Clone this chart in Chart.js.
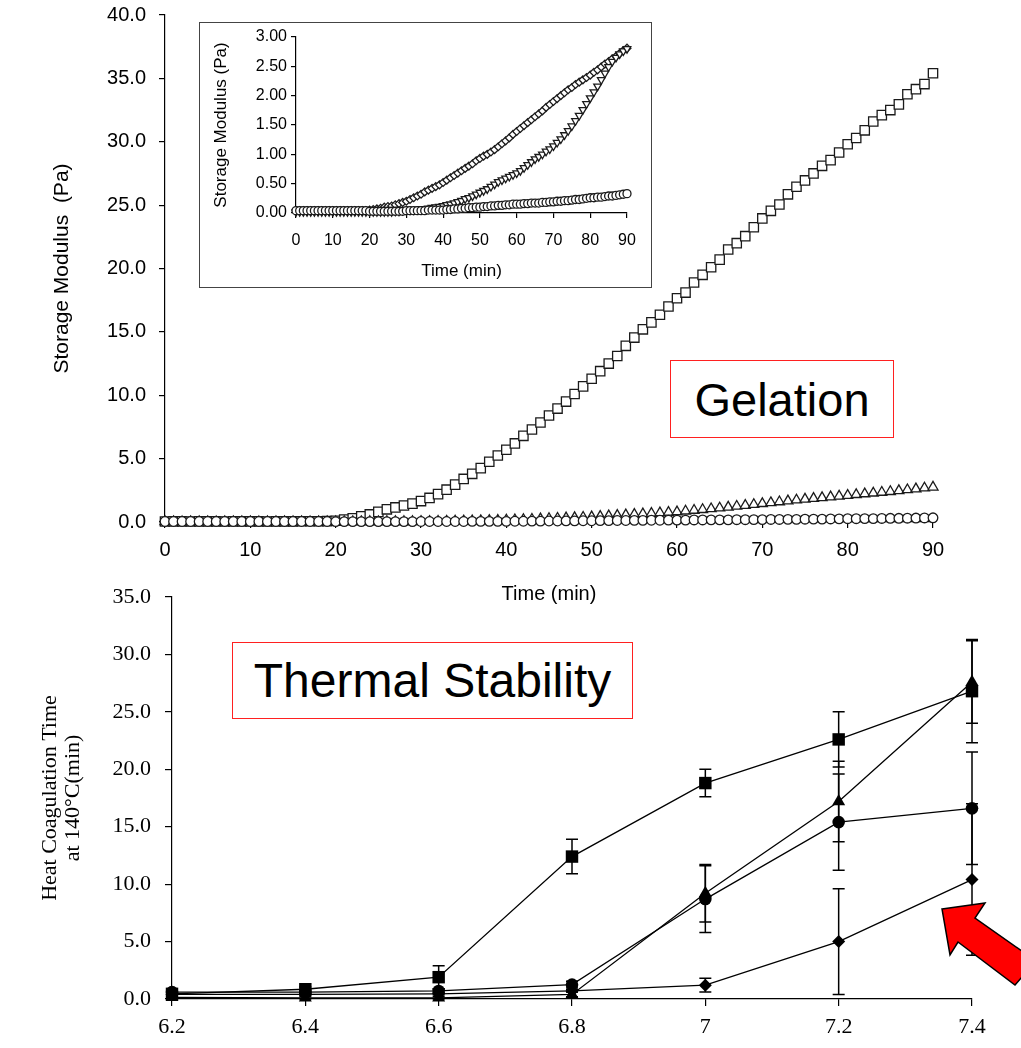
<!DOCTYPE html>
<html>
<head>
<meta charset="utf-8">
<script src="https://cdn.jsdelivr.net/npm/chart.js@4.4.1/dist/chart.umd.min.js"></script>
<style>
  body { margin: 0; background: #fff; }
  #wrap { position: relative; width: 1021px; height: 1048px; overflow: hidden; background: #fff; }
  canvas { position: absolute; }
  .tag { position: absolute; box-sizing: border-box; border: 1.5px solid #ff2020; background: #fff;
         font-family: "Liberation Sans", Arial, sans-serif; color: #000;
         display: flex; align-items: center; justify-content: center; }
</style>
</head>
<body>
<div id="wrap">
  <canvas id="gelChart" width="1021" height="610" style="left:0;top:0"></canvas>
  <div id="insetBox" style="position:absolute;left:199px;top:22px;width:451px;height:264px;border:1.5px solid #444;background:#fff">
    <canvas id="insetChart" width="451" height="264" style="left:0;top:0"></canvas>
  </div>
  <canvas id="heatChart" width="1021" height="473" style="left:0;top:575px"></canvas>
  <div class="tag" style="left:670px;top:360px;width:224px;height:78px;font-size:47px">Gelation</div>
  <div class="tag" style="left:232px;top:642px;width:401px;height:77px;font-size:48px">Thermal Stability</div>
  <svg style="position:absolute;left:0;top:0" width="1021" height="1048">
    <polygon points="942,909 985,903 975,918 1036,961 1015,985 958,942 950,955"
             fill="#ff0000" stroke="#000" stroke-width="1.5" stroke-linejoin="miter"/>
  </svg>
</div>
<script>
// time (min) of each rheometer reading
const timeMin = [0,1,2,3,4,5,6,7,8,9,10,11,12,13,14,15,16,17,18,19,20,21,22,23,24,25,26,27,28,29,
  30,31,32,33,34,35,36,37,38,39,40,41,42,43,44,45,46,47,48,49,50,51,52,53,54,55,56,57,58,59,
  60,61,62,63,64,65,66,67,68,69,70,71,72,73,74,75,76,77,78,79,80,81,82,83,84,85,86,87,88,89,90]

// storage modulus (Pa), main plot
const gSquare = [0.04,0.05,0.05,0.04,0.05,0.05,0.05,0.04,0.05,0.05,0.05,0.05,0.04,0.05,0.05,0.05,0.06,0.06,0.06,0.07,
  0.1,0.2,0.3,0.45,0.6,0.8,1.0,1.15,1.3,1.45,
  1.65,1.9,2.2,2.55,2.95,3.4,3.8,4.25,4.75,5.25,
  5.7,6.2,6.8,7.3,7.85,8.4,8.95,9.5,10.1,10.7,
  11.3,11.9,12.5,13.1,13.9,14.55,15.2,15.75,16.35,17.0,
  17.65,18.1,18.9,19.5,20.1,20.7,21.5,22.0,22.55,23.25,
  23.95,24.55,25.05,25.85,26.45,26.95,27.5,28.1,28.55,29.15,
  29.8,30.3,30.9,31.6,32.1,32.5,32.95,33.75,34.15,34.55,35.4]
const gTriangle = [0.02,0.02,0.01,0.02,0.02,0.02,0.01,0.02,0.02,0.02,0.02,0.01,0.02,0.02,0.02,0.02,0.02,0.01,0.02,0.02,
  0.02,0.02,0.02,0.02,0.03,0.02,0.03,0.03,0.03,0.03,
  0.04,0.04,0.05,0.06,0.07,0.08,0.09,0.10,0.12,0.13,
  0.15,0.17,0.19,0.21,0.24,0.27,0.29,0.32,0.34,0.37,
  0.40,0.44,0.48,0.52,0.56,0.60,0.64,0.68,0.72,0.76,
  0.80,0.86,0.92,0.98,1.04,1.10,1.17,1.24,1.31,1.38,
  1.45,1.52,1.59,1.66,1.73,1.80,1.86,1.92,1.98,2.04,
  2.10,2.16,2.22,2.28,2.34,2.40,2.47,2.54,2.61,2.68,2.75]
const gCircle = [0.04,0.04,0.04,0.04,0.04,0.04,0.04,0.04,0.04,0.04,0.04,0.04,0.04,0.04,0.04,0.04,0.04,0.04,0.04,0.04,
  0.03,0.03,0.03,0.03,0.03,0.03,0.03,0.03,0.03,0.03,
  0.04,0.04,0.04,0.04,0.04,0.04,0.05,0.05,0.05,0.05,
  0.05,0.06,0.06,0.07,0.07,0.08,0.08,0.09,0.09,0.10,
  0.10,0.11,0.11,0.12,0.12,0.13,0.13,0.14,0.14,0.15,
  0.15,0.15,0.16,0.16,0.17,0.17,0.17,0.18,0.18,0.19,
  0.19,0.20,0.20,0.21,0.21,0.22,0.23,0.23,0.24,0.25,
  0.26,0.26,0.27,0.27,0.28,0.29,0.29,0.30,0.31,0.32,0.33]

// storage modulus (Pa), inset
const iDiamond = [0.04,0.04,0.04,0.04,0.04,0.04,0.04,0.04,0.04,0.04,0.04,0.04,0.04,0.04,0.04,0.04,0.04,0.04,0.04,0.04,
  0.05,0.06,0.07,0.08,0.10,0.11,0.12,0.14,0.16,0.18,
  0.20,0.23,0.26,0.29,0.32,0.36,0.39,0.42,0.45,0.48,
  0.52,0.56,0.60,0.64,0.68,0.72,0.76,0.80,0.84,0.89,
  0.93,0.97,1.00,1.04,1.08,1.13,1.18,1.23,1.28,1.34,
  1.39,1.44,1.49,1.54,1.59,1.64,1.69,1.74,1.80,1.85,
  1.90,1.95,2.00,2.05,2.10,2.14,2.19,2.23,2.27,2.31,
  2.35,2.40,2.44,2.49,2.54,2.58,2.63,2.67,2.72,2.77,2.81]
const iTriangle = [0.02,0.02,0.02,0.02,0.02,0.02,0.02,0.02,0.02,0.02,0.02,0.02,0.02,0.02,0.02,0.02,0.02,0.02,0.02,0.02,
  0.02,0.02,0.02,0.02,0.02,0.02,0.02,0.03,0.03,0.04,
  0.04,0.05,0.05,0.06,0.07,0.07,0.08,0.09,0.10,0.11,
  0.12,0.14,0.15,0.17,0.19,0.21,0.24,0.26,0.29,0.32,
  0.35,0.38,0.41,0.45,0.49,0.53,0.56,0.59,0.62,0.65,
  0.68,0.72,0.77,0.82,0.87,0.92,0.96,1.00,1.05,1.09,
  1.14,1.20,1.26,1.33,1.40,1.48,1.57,1.66,1.76,1.86,
  1.96,2.06,2.16,2.27,2.38,2.49,2.58,2.65,2.71,2.76,2.80]

// heat coagulation time (min) against pH
const phLabels = ["6.2", "6.4", "6.6", "6.8", "7", "7.2", "7.4"]
const hctSquare = [0.45, 0.85, 1.9, 12.4, 18.8, 22.6, 26.8]
const hctSquareErr = [0.2, 0.2, 1.0, 1.5, 1.2, 2.4, 4.5]
const hctTriangle = [0.15, 0.1, 0.1, 0.4, 9.2, 17.2, 27.6]
const hctTriangleErr = [0.1, 0.1, 0.1, 0.2, 2.5, 3.5, 3.6]
const hctCircle = [0.6, 0.6, 0.7, 1.25, 8.7, 15.4, 16.6]
const hctCircleErr = [0.2, 0.2, 0.2, 0.3, 2.9, 4.2, 4.9]
const hctDiamond = [0.4, 0.4, 0.45, 0.7, 1.2, 5.0, 10.4]
const hctDiamondErr = [0.1, 0.1, 0.1, 0.1, 0.6, 4.6, 6.6]

const SANS = "'Liberation Sans', Arial, sans-serif"
const SERIF = "'Liberation Serif', 'Times New Roman', serif"

Chart.defaults.animation = false
Chart.defaults.events = []
Chart.defaults.color = "#000"
Chart.defaults.plugins.legend.display = false
Chart.defaults.plugins.tooltip.enabled = false

function toPoints(ys) {
    return timeMin.map((t, i) => ({ x: t, y: ys[i] }))
}

function markerSet(label, ys, style, radius, rotation) {
    return {
        label: label,
        data: toPoints(ys),
        showLine: false,
        pointStyle: style,
        pointRadius: radius,
        pointRotation: rotation || 0,
        pointBorderWidth: 1.3,
        pointBorderColor: "#1a1a1a",
        pointBackgroundColor: "#fff",
        clip: false
    }
}

// axis with ticks pointing out and no grid in the plot
// fixed box size, and no extra label padding so the plot area stays where it is put
function axis(opts) {
    const ticks = { stepSize: opts.step, autoSkip: false, maxRotation: 0, padding: opts.pad, font: opts.font }
    if (opts.cb) ticks.callback = opts.cb
    return {
        type: opts.type || "linear",
        min: opts.min, max: opts.max,
        offset: false,
        afterFit: (s) => {
            if (opts.w) s.width = opts.w
            if (opts.h) s.height = opts.h
            s.paddingTop = 0; s.paddingBottom = 0
            s.paddingLeft = 0; s.paddingRight = 0
        },
        border: { display: true, color: "#000", width: 1.2 },
        grid: { display: true, drawOnChartArea: false, drawTicks: true, tickLength: opts.tl, color: "#000", lineWidth: 1.2 },
        ticks: ticks,
        title: opts.title
    }
}

/*********************************************
 * Gelation: main plot
 *********************************************/
new Chart("gelChart", {
    type: "scatter",
    data: {
        datasets: [
            markerSet("circle", gCircle, "circle", 4.8),
            markerSet("triangle", gTriangle, "triangle", 5.8),
            markerSet("square", gSquare, "rect", 6.6)
        ]
    },
    options: {
        responsive: false,
        devicePixelRatio: 1,
        layout: { padding: { left: 0, top: 15, right: 88, bottom: 0 } },
        scales: {
            x: axis({
                min: 0, max: 90, step: 10, tl: 6, pad: 10, h: 88,
                font: { family: SANS, size: 20 },
                title: { display: true, text: "Time (min)", font: { family: SANS, size: 20 }, padding: { top: 0, bottom: 4 } }
            }),
            y: axis({
                min: 0, max: 40, step: 5, tl: 6, pad: 13, w: 165,
                font: { family: SANS, size: 20 },
                cb: (v) => v.toFixed(1),
                title: { display: true, text: "Storage Modulus  (Pa)", font: { family: SANS, size: 21 }, padding: { top: 50, bottom: 0 } }
            })
        }
    }
})

/*********************************************
 * Gelation: inset
 *********************************************/
new Chart("insetChart", {
    type: "scatter",
    data: {
        datasets: [
            markerSet("circle", gCircle, "circle", 4),
            markerSet("triangle", iTriangle, "triangle", 4.4, 180),
            markerSet("diamond", iDiamond, "rectRot", 3.9)
        ]
    },
    options: {
        responsive: false,
        devicePixelRatio: 1,
        layout: { padding: { left: 0, top: 14, right: 24, bottom: 0 } },
        scales: {
            x: axis({
                min: 0, max: 90, step: 10, tl: 5, pad: 13, h: 74,
                font: { family: SANS, size: 16 },
                title: { display: true, text: "Time (min)", font: { family: SANS, size: 17 }, padding: { top: 0, bottom: 5 } }
            }),
            y: axis({
                min: 0, max: 3, step: 0.5, tl: 5, pad: 4, w: 96,
                font: { family: SANS, size: 16 },
                cb: (v) => v.toFixed(2),
                title: { display: true, text: "Storage Modulus (Pa)", font: { family: SANS, size: 17 }, padding: { top: 11, bottom: 0 } }
            })
        }
    }
})

/*********************************************
 * Thermal stability with error bars
 *********************************************/
const errorBars = {
    id: "errorBars",
    beforeDatasetsDraw(chart) {
        const ctx = chart.ctx
        const xs = chart.scales.x, ys = chart.scales.y
        ctx.save()
        ctx.strokeStyle = "#000"
        ctx.lineWidth = 1.5
        chart.data.datasets.forEach((ds) => {
            ds.data.forEach((v, i) => {
                const e = ds.errors[i]
                if (!e) return
                const px = xs.getPixelForValue(i)
                const top = ys.getPixelForValue(v + e)
                const bot = ys.getPixelForValue(Math.max(v - e, 0))
                ctx.beginPath()
                ctx.moveTo(px, top); ctx.lineTo(px, bot)
                ctx.moveTo(px - 6, top); ctx.lineTo(px + 6, top)
                ctx.moveTo(px - 6, bot); ctx.lineTo(px + 6, bot)
                ctx.stroke()
            })
        })
        ctx.restore()
    }
}

function hctSet(label, values, errs, style, radius) {
    return {
        label: label,
        data: values,
        errors: errs,
        borderColor: "#000",
        borderWidth: 1.3,
        tension: 0,
        pointStyle: style,
        pointRadius: radius,
        pointBorderWidth: 0,
        pointBackgroundColor: "#000",
        clip: false
    }
}

new Chart("heatChart", {
    type: "line",
    data: {
        labels: phLabels,
        datasets: [
            hctSet("diamond", hctDiamond, hctDiamondErr, "rectRot", 6.5),
            hctSet("circle", hctCircle, hctCircleErr, "circle", 6.3),
            hctSet("triangle", hctTriangle, hctTriangleErr, "triangle", 7.5),
            hctSet("square", hctSquare, hctSquareErr, "rect", 8.8)
        ]
    },
    options: {
        responsive: false,
        devicePixelRatio: 1,
        layout: { padding: { left: 0, top: 22, right: 49, bottom: 0 } },
        scales: {
            x: axis({
                type: "category", tl: 7, pad: 8, h: 49,
                font: { family: SERIF, size: 22 },
                cb: (v, i) => phLabels[i]
            }),
            y: axis({
                min: 0, max: 35, step: 5, tl: 7, pad: 14, w: 172,
                font: { family: SERIF, size: 22 },
                cb: (v) => v.toFixed(1),
                title: {
                    display: true,
                    text: ["Heat Coagulation Time", "at 140°C(min)"],
                    font: { family: SERIF, size: 22, lineHeight: 1.05 },
                    padding: { top: 39, bottom: 0 }
                }
            })
        }
    },
    plugins: [errorBars]
})
</script>
</body>
</html>
